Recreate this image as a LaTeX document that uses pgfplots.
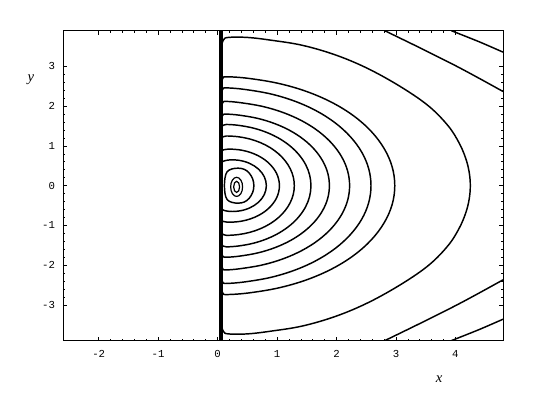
\documentclass[border=0pt]{standalone}
\usepackage{fontspec}
\setmainfont{Liberation Serif}
\newfontfamily\tickfont{Liberation Mono}
\usepackage{pgfplots}
\pgfplotsset{compat=1.18}

\begin{document}
\begin{tikzpicture}
\begin{axis}[
    width=330pt, height=232.5pt, scale only axis,
    xmin=-2.6, xmax=4.8, ymin=-3.9, ymax=3.9,
    xtick={-2,-1,0,1,2,3,4}, xticklabels={-2,-1,0,1,2,3,4},
    ytick={-3,-2,-1,0,1,2,3}, yticklabels={-3,-2,-1,0,1,2,3},
    minor tick num=4,
    tick align=inside,
    major tick length=3pt, minor tick length=1.6pt,
    every tick/.style={black, line width=0.5pt},
    axis line style={line width=0.7pt},
    tick label style={font=\tickfont\fontsize{8}{9}\selectfont},
    xticklabel style={yshift=-4pt},
    yticklabel style={xshift=-2.5pt},
    xlabel={\itshape x}, ylabel={\itshape y},
    every axis x label/.style={at={(rel axis cs:0.855,0)}, anchor=center, yshift=-28.7pt, font=\fontsize{11}{12}\selectfont},
    every axis y label/.style={at={(rel axis cs:0,0.841)}, anchor=center, xshift=-24pt, font=\fontsize{11}{12}\selectfont},
    clip=true,
]
% singular line
\addplot[black, line width=2.6pt] coordinates {(0.055,-3.9) (0.055,3.9)};
% D-shaped contours, outermost first
\addplot[black, line width=1.1pt, smooth, tension=0.6] coordinates {
(0.06,3.50)(0.10,3.67)(0.18,3.73)(0.5,3.73)(0.9,3.66)(1.43,3.53)(2.0,3.28)(2.55,2.93)(3.11,2.46)(3.56,1.99)(3.88,1.50)(4.06,1.08)(4.17,0.70)(4.23,0.35)(4.25,0)
(4.23,-0.35)(4.17,-0.70)(4.06,-1.08)(3.88,-1.50)(3.56,-1.99)(3.11,-2.46)(2.55,-2.93)(2.0,-3.28)(1.43,-3.53)(0.9,-3.66)(0.5,-3.73)(0.18,-3.73)(0.10,-3.67)(0.06,-3.50)};
\addplot[black, line width=1.1pt, smooth, tension=0.6] coordinates {
(0.06,2.58)(0.09,2.71)(0.16,2.74)(0.518,2.70)(1.019,2.575)(1.49,2.373)(1.916,2.099)(2.283,1.762)(2.581,1.37)(2.80,0.937)(2.935,0.477)(2.98,0)
(2.935,-0.477)(2.80,-0.937)(2.581,-1.37)(2.283,-1.762)(1.916,-2.099)(1.49,-2.373)(1.019,-2.575)(0.518,-2.70)(0.16,-2.74)(0.09,-2.71)(0.06,-2.58)};
\addplot[black, line width=1.1pt, smooth, tension=0.6] coordinates {
(0.06,2.31)(0.09,2.44)(0.16,2.46)(0.449,2.423)(0.882,2.312)(1.29,2.130)(1.659,1.884)(1.976,1.582)(2.234,1.23)(2.425,0.841)(2.541,0.428)(2.58,0)
(2.541,-0.428)(2.425,-0.841)(2.234,-1.23)(1.976,-1.582)(1.659,-1.884)(1.29,-2.130)(0.882,-2.312)(0.449,-2.423)(0.16,-2.46)(0.09,-2.44)(0.06,-2.31)};
\addplot[black, line width=1.1pt, smooth, tension=0.6] coordinates {
(0.06,1.98)(0.09,2.10)(0.15,2.12)(0.386,2.088)(0.759,1.993)(1.11,1.836)(1.427,1.624)(1.701,1.363)(1.923,1.06)(2.087,0.725)(2.187,0.369)(2.22,0)
(2.187,-0.369)(2.087,-0.725)(1.923,-1.06)(1.701,-1.363)(1.427,-1.624)(1.11,-1.836)(0.759,-1.993)(0.386,-2.088)(0.15,-2.12)(0.09,-2.10)(0.06,-1.98)};
\addplot[black, line width=1.1pt, smooth, tension=0.6] coordinates {
(0.06,1.67)(0.09,1.78)(0.15,1.80)(0.368,1.773)(0.676,1.692)(0.965,1.559)(1.227,1.379)(1.452,1.157)(1.635,0.90)(1.770,0.616)(1.853,0.313)(1.88,0)
(1.853,-0.313)(1.770,-0.616)(1.635,-0.90)(1.452,-1.157)(1.227,-1.379)(0.965,-1.559)(0.676,-1.692)(0.368,-1.773)(0.15,-1.80)(0.09,-1.78)(0.06,-1.67)};
\addplot[black, line width=1.1pt, smooth, tension=0.6] coordinates {
(0.06,1.42)(0.09,1.52)(0.15,1.54)(0.356,1.517)(0.603,1.448)(0.835,1.334)(1.045,1.180)(1.226,0.990)(1.373,0.77)(1.482,0.527)(1.548,0.268)(1.57,0)
(1.548,-0.268)(1.482,-0.527)(1.373,-0.77)(1.226,-0.990)(1.045,-1.180)(0.835,-1.334)(0.603,-1.448)(0.356,-1.517)(0.15,-1.54)(0.09,-1.52)(0.06,-1.42)};
\addplot[black, line width=1.1pt, smooth, tension=0.6] coordinates {
(0.06,1.14)(0.09,1.23)(0.15,1.25)(0.348,1.231)(0.540,1.175)(0.72,1.083)(0.883,0.958)(1.023,0.804)(1.137,0.625)(1.221,0.428)(1.273,0.218)(1.29,0)
(1.273,-0.218)(1.221,-0.428)(1.137,-0.625)(1.023,-0.804)(0.883,-0.958)(0.72,-1.083)(0.540,-1.175)(0.348,-1.231)(0.15,-1.25)(0.09,-1.23)(0.06,-1.14)};
\addplot[black, line width=1.1pt, smooth, tension=0.6] coordinates {
(0.06,0.82)(0.09,0.90)(0.15,0.915)(0.2,0.92)(0.346,0.906)(0.487,0.865)(0.62,0.797)(0.74,0.705)(0.843,0.592)(0.927,0.46)(0.99,0.315)(1.027,0.160)(1.04,0)
(1.027,-0.160)(0.99,-0.315)(0.927,-0.46)(0.843,-0.592)(0.74,-0.705)(0.62,-0.797)(0.487,-0.865)(0.346,-0.906)(0.2,-0.92)(0.15,-0.915)(0.09,-0.90)(0.06,-0.82)};
\addplot[black, line width=1.1pt, smooth, tension=0.6] coordinates {
(0.06,0.55)(0.09,0.61)(0.16,0.64)(0.25,0.65)(0.349,0.640)(0.445,0.611)(0.535,0.563)(0.616,0.498)(0.687,0.418)(0.744,0.325)(0.786,0.222)(0.811,0.113)(0.82,0)
(0.811,-0.113)(0.786,-0.222)(0.744,-0.325)(0.687,-0.418)(0.616,-0.498)(0.535,-0.563)(0.445,-0.611)(0.349,-0.640)(0.25,-0.65)(0.16,-0.64)(0.09,-0.61)(0.06,-0.55)};
% closed inner contours
\addplot[black, line width=1.1pt, smooth cycle, tension=0.6] coordinates {
(0.61,0)(0.59,0.17)(0.53,0.32)(0.45,0.41)(0.35,0.44)(0.24,0.42)(0.16,0.35)(0.125,0.2)(0.115,0)
(0.125,-0.2)(0.16,-0.35)(0.24,-0.42)(0.35,-0.44)(0.45,-0.41)(0.53,-0.32)(0.59,-0.17)};
\addplot[black, line width=0.9pt, smooth cycle, tension=0.7] coordinates {
(0.42,-0.03)(0.391,0.14)(0.32,0.21)(0.249,0.14)(0.22,-0.03)(0.249,-0.20)(0.32,-0.27)(0.391,-0.20)};
\addplot[black, line width=0.9pt, smooth cycle, tension=0.7] coordinates {
(0.37,-0.03)(0.355,0.069)(0.32,0.11)(0.285,0.069)(0.27,-0.03)(0.285,-0.129)(0.32,-0.17)(0.355,-0.129)};
% corner contours
\addplot[black, line width=1.1pt, smooth] coordinates {(2.81,3.90)(3.4,3.47)(4.0,3.02)(4.4,2.70)(4.8,2.37)};
\addplot[black, line width=1.1pt, smooth] coordinates {(3.93,3.90)(4.4,3.62)(4.8,3.36)};
\addplot[black, line width=1.1pt, smooth] coordinates {(2.81,-3.90)(3.4,-3.47)(4.0,-3.02)(4.4,-2.70)(4.8,-2.37)};
\addplot[black, line width=1.1pt, smooth] coordinates {(3.93,-3.90)(4.4,-3.62)(4.8,-3.36)};
\coordinate (bl) at (rel axis cs:0,0);
\coordinate (tr) at (rel axis cs:1,1);
\end{axis}
\path (bl) ++(-47.25pt,-55.7pt) coordinate (A);
\path (tr) ++(38.25pt,23pt) coordinate (B);
\path (A) rectangle (B);
\end{tikzpicture}
\end{document}
